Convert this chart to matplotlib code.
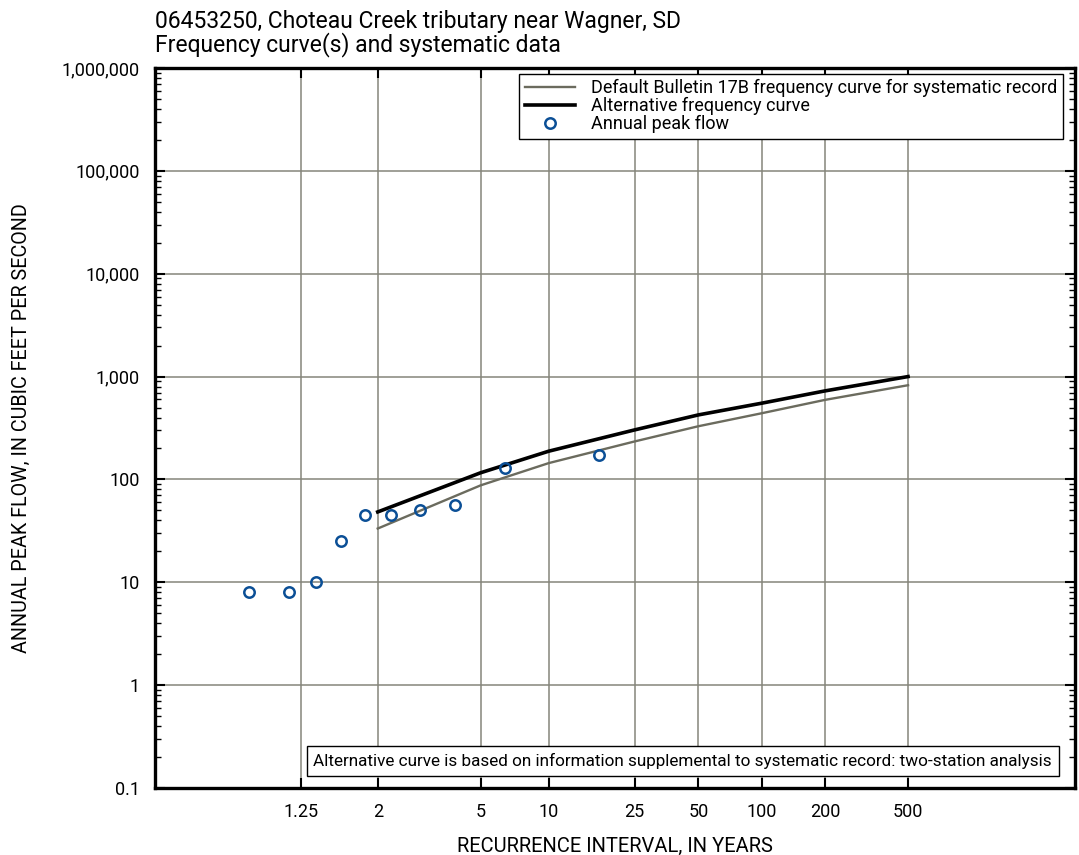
import numpy as np
import matplotlib
matplotlib.use("Agg")
import matplotlib.pyplot as plt
from matplotlib.ticker import FixedLocator, NullLocator, LogLocator, FuncFormatter

plt.rcParams['font.family'] = ['Roboto', 'DejaVu Sans']

# annual peaks (recurrence interval, flow in cfs)
peak_T = [1.06, 1.19, 1.34, 1.55, 1.82, 2.22, 2.83, 3.92, 6.38, 17.0]
peak_Q = [8, 8, 10, 25, 45, 45, 50, 56, 128, 173]

# frequency curves
curve_T = [2, 5, 10, 25, 50, 100, 200, 500]
default_Q = [33.3, 87.5, 144, 234, 329, 440, 593, 824]
alt_Q = [48.3, 116, 188, 303, 424, 551, 725, 1000]

xticks = [1.25, 2, 5, 10, 25, 50, 100, 200, 500]
xticklabels = ['1.25', '2', '5', '10', '25', '50', '100', '200', '500']
yticks = [0.1, 1, 10, 100, 1000, 10000, 100000, 1000000]


def fwd(T):
    T = np.asarray(T, dtype=float)
    with np.errstate(all='ignore'):
        return -np.log(-np.log(1 - 1 / T))


def inv(y):
    y = np.asarray(y, dtype=float)
    with np.errstate(all='ignore'):
        return 1 / (1 - np.exp(-np.exp(-y)))


fig = plt.figure(figsize=(10.79, 8.55), dpi=100)
ax = fig.add_axes([155 / 1079, 1 - 788 / 855, 920 / 1079, 720 / 855])

ax.set_xscale('function', functions=(fwd, inv))
ax.set_yscale('log')
ax.set_xlim(inv(-2.089), inv(8.054))
ax.set_ylim(0.1, 1e6)

gridc = '#85857a'
for t in xticks:
    ax.axvline(t, color=gridc, lw=1.1, zorder=1)
for v in yticks[1:-1]:
    ax.axhline(v, color=gridc, lw=1.1, zorder=1)

ax.plot(curve_T, default_Q, color='#6b6b5e', lw=1.7, zorder=3,
        label='Default Bulletin 17B frequency curve for systematic record')
ax.plot(curve_T, alt_Q, color='black', lw=2.6, zorder=4,
        label='Alternative frequency curve')
ax.plot(peak_T, peak_Q, 'o', ms=7.5, mfc='none', mec='#0b4f96', mew=1.8,
        zorder=5, label='Annual peak flow')

ax.xaxis.set_major_locator(FixedLocator(xticks))
ax.xaxis.set_minor_locator(NullLocator())
ax.set_xticklabels(xticklabels)
ax.yaxis.set_major_locator(FixedLocator(yticks))
ax.yaxis.set_minor_locator(LogLocator(base=10, subs=np.arange(2, 10), numticks=20))
ax.yaxis.set_major_formatter(FuncFormatter(lambda v, p: ('%g' % v) if v < 1 else '{:,.0f}'.format(v)))

ax.tick_params(which='major', direction='in', length=7, width=1.5,
               top=True, right=True, labelsize=13, pad=11)
ax.tick_params(which='minor', direction='in', length=4, width=1.0,
               top=True, right=True)
for s in ax.spines.values():
    s.set_linewidth(2.4)

ax.set_xlabel('RECURRENCE INTERVAL, IN YEARS', fontsize=14.5, labelpad=11)
ax.set_ylabel('ANNUAL PEAK FLOW, IN CUBIC FEET PER SECOND', fontsize=14.2, labelpad=22)
ax.set_title('06453250, Choteau Creek tributary near Wagner, SD\n'
             'Frequency curve(s) and systematic data',
             loc='left', fontsize=16.5, linespacing=0.95, pad=12)

leg = ax.legend(loc='upper right', bbox_to_anchor=(0.987, 0.992), fontsize=13,
                frameon=True, fancybox=False, edgecolor='black', framealpha=1,
                borderpad=0.3, labelspacing=0.0, handlelength=2.8,
                handletextpad=0.9, borderaxespad=0)
leg.get_frame().set_linewidth(1.0)

ax.text(0.975, 0.026, 'Alternative curve is based on information supplemental to '
        'systematic record: two-station analysis', transform=ax.transAxes,
        ha='right', va='bottom', fontsize=12.3, zorder=6,
        bbox=dict(boxstyle='square,pad=0.4', fc='white', ec='black', lw=1.0))

fig.savefig('out.png', dpi=100)
